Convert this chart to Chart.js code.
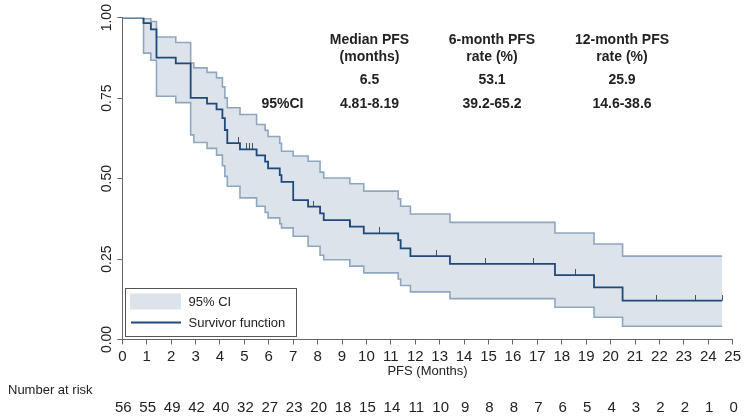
<!DOCTYPE html>
<html><head><meta charset="utf-8">
<script src="https://cdn.jsdelivr.net/npm/chart.js@4.4.1/dist/chart.umd.min.js"></script>
<style>html,body{margin:0;padding:0;background:#fff}#wrap{width:753px;height:420px}</style>
</head><body><div id="wrap"><canvas id="c" width="753" height="420"></canvas></div>
<script>
// ---- data ----
const kmTimes  = [0, 0.87, 1.17, 1.40, 2.19, 2.80, 2.93, 3.47, 3.86, 4.10, 4.20, 4.30, 4.82, 5.50, 5.85, 5.97, 6.45, 6.52, 7.00, 7.61, 8.10, 8.25, 9.32, 9.89, 11.30, 11.40, 11.80, 13.42, 17.72, 19.32, 20.49, 24.57];
const survival = [1.000, 0.983, 0.964, 0.876, 0.858, 0.751, 0.751, 0.733, 0.715, 0.688, 0.651, 0.610, 0.591, 0.572, 0.553, 0.532, 0.511, 0.490, 0.433, 0.413, 0.392, 0.371, 0.351, 0.330, 0.309, 0.283, 0.259, 0.235, 0.200, 0.162, 0.121, 0.121];
const ciUpper  = [1.000, 0.997, 0.988, 0.940, 0.923, 0.859, 0.844, 0.830, 0.813, 0.785, 0.751, 0.720, 0.699, 0.668, 0.650, 0.631, 0.610, 0.585, 0.570, 0.554, 0.520, 0.502, 0.484, 0.461, 0.437, 0.414, 0.390, 0.364, 0.331, 0.297, 0.259, 0.259];
const ciLower  = [1.000, 0.890, 0.868, 0.756, 0.736, 0.636, 0.612, 0.594, 0.573, 0.540, 0.507, 0.476, 0.440, 0.414, 0.395, 0.378, 0.360, 0.347, 0.321, 0.290, 0.262, 0.248, 0.228, 0.207, 0.188, 0.168, 0.148, 0.127, 0.100, 0.069, 0.041, 0.041];
const censorTimes = [4.75, 5.09, 5.23, 5.34, 7.85, 9.35, 10.55, 12.87, 14.89, 16.86, 18.58, 21.88, 23.49, 24.57];
const xTicks = [0,1,2,3,4,5,6,7,8,9,10,11,12,13,14,15,16,17,18,19,20,21,22,23,24,25];
const yTicks = [0, 0.25, 0.5, 0.75, 1.0];
const atRisk = [56,55,49,42,40,32,27,23,20,18,15,14,11,10,9,8,8,7,6,5,4,3,2,2,1,0];
const statHeaders1 = ['Median PFS', '6-month PFS', '12-month PFS'];
const statHeaders2 = ['(months)', 'rate (%)', 'rate (%)'];
const statValues   = ['6.5', '53.1', '25.9'];
const statCIs      = ['4.81-8.19', '39.2-65.2', '14.6-38.6'];
const ciRowLabel   = '95%CI';

// ---- helpers ----
const FONT = '"Liberation Sans", Arial, Helvetica, sans-serif';
const pts = (xs, ys) => xs.map((x, i) => ({x, y: ys[i]}));
function survAt(t){ let v = survival[0]; for (let i=0;i<kmTimes.length;i++){ if (kmTimes[i] <= t) v = survival[i]; } return v; }

const tickImg = document.createElement('canvas');
tickImg.width = 1; tickImg.height = 12;
(function(){ const g = tickImg.getContext('2d'); g.fillStyle = '#505050'; g.fillRect(0,0,1,6); })();

const NAVY = '#1d4a7a', CI_LINE = '#8ea7c0', CI_FILL = '#dde3ea';

const extras = {
  id: 'extras',
  afterDraw(chart){
    const {ctx, scales:{x, y}} = chart;
    ctx.save();
    // y tick labels (rotated)
    ctx.fillStyle = '#222';
    ctx.font = '14px ' + FONT;
    ctx.textAlign = 'center'; ctx.textBaseline = 'middle';
    yTicks.forEach(v => {
      ctx.save();
      ctx.translate(107.5, y.getPixelForValue(v));
      ctx.rotate(-Math.PI/2);
      ctx.fillText(v.toFixed(2), 0, 0);
      ctx.restore();
    });
    // number at risk
    ctx.font = '13px ' + FONT;
    ctx.textAlign = 'left';
    ctx.fillText('Number at risk', 8, 390.5);
    ctx.font = '15px ' + FONT;
    ctx.textAlign = 'center';
    atRisk.forEach((n, i) => ctx.fillText(String(n), x.getPixelForValue(xTicks[i]) + 1, 407.5));
    // stats block
    ctx.font = 'bold 14px ' + FONT;
    const colX = [369.5, 492, 622];
    colX.forEach((cx, i) => {
      ctx.fillText(statHeaders1[i], cx, 40);
      ctx.fillText(statHeaders2[i], cx, 57.5);
      ctx.fillText(statValues[i], cx, 80.5);
      ctx.fillText(statCIs[i], cx, 104);
    });
    ctx.fillText(ciRowLabel, 282.5, 104);
    // legend
    ctx.strokeStyle = '#555'; ctx.lineWidth = 1;
    ctx.strokeRect(125.5, 288.5, 171, 48);
    ctx.fillStyle = CI_FILL;
    ctx.fillRect(130, 293.5, 51, 16);
    ctx.strokeStyle = NAVY; ctx.lineWidth = 1.8;
    ctx.beginPath(); ctx.moveTo(131, 322.5); ctx.lineTo(181, 322.5); ctx.stroke();
    ctx.fillStyle = '#222';
    ctx.font = '13px ' + FONT;
    ctx.textAlign = 'left';
    ctx.fillText(chart.data.datasets[0].label, 188.5, 302);
    ctx.fillText(chart.data.datasets[2].label, 188.5, 323);
    ctx.restore();
  }
};

new Chart(document.getElementById('c'), {
  type: 'line',
  data: { datasets: [
    { label: '95% CI', data: pts(kmTimes, ciUpper), stepped: 'before', borderColor: CI_LINE, backgroundColor: CI_FILL,
      fill: '+1', borderWidth: 1.6, pointRadius: 0, order: 3 },
    { label: '95% CI lower', data: pts(kmTimes, ciLower), stepped: 'before', borderColor: CI_LINE,
      fill: false, borderWidth: 1.6, pointRadius: 0, order: 2 },
    { label: 'Survivor function', data: pts(kmTimes, survival), stepped: 'before', borderColor: NAVY,
      fill: false, borderWidth: 1.8, pointRadius: 0, order: 0 },
    { label: 'Censored', data: censorTimes.map(t => ({x: t, y: survAt(t)})), showLine: false,
      pointStyle: tickImg, pointRadius: 6, order: 1 }
  ]},
  options: {
    responsive: false, animation: false,
    layout: { padding: { left: 0, right: 20.3, top: 17.7, bottom: 40.2 } },
    plugins: { legend: { display: false }, tooltip: { enabled: false } },
    scales: {
      x: { type: 'linear', min: 0, max: 25,
        afterBuildTicks: s => { s.ticks = xTicks.map(v => ({value: v})); },
        ticks: { autoSkip: false, maxRotation: 0, font: { family: FONT, size: 15 }, color: '#222', padding: 3 },
        grid: { drawOnChartArea: false, tickLength: 5, tickColor: '#666', lineWidth: 1 },
        border: { color: '#666', width: 1 },
        title: { display: true, text: 'PFS (Months)', font: { family: FONT, size: 13 }, color: '#222', padding: { top: 0, bottom: 1 } },
        afterFit: s => { s.height = 40.3; } },
      y: { min: 0, max: 1,
        afterBuildTicks: s => { s.ticks = yTicks.map(v => ({value: v})); },
        ticks: { callback: () => '' },
        grid: { drawOnChartArea: false, tickLength: 5, tickColor: '#666', lineWidth: 1 },
        border: { color: '#666', width: 1 },
        afterFit: s => { s.width = 122.3; } }
    }
  },
  plugins: [extras]
});
</script></body></html>
